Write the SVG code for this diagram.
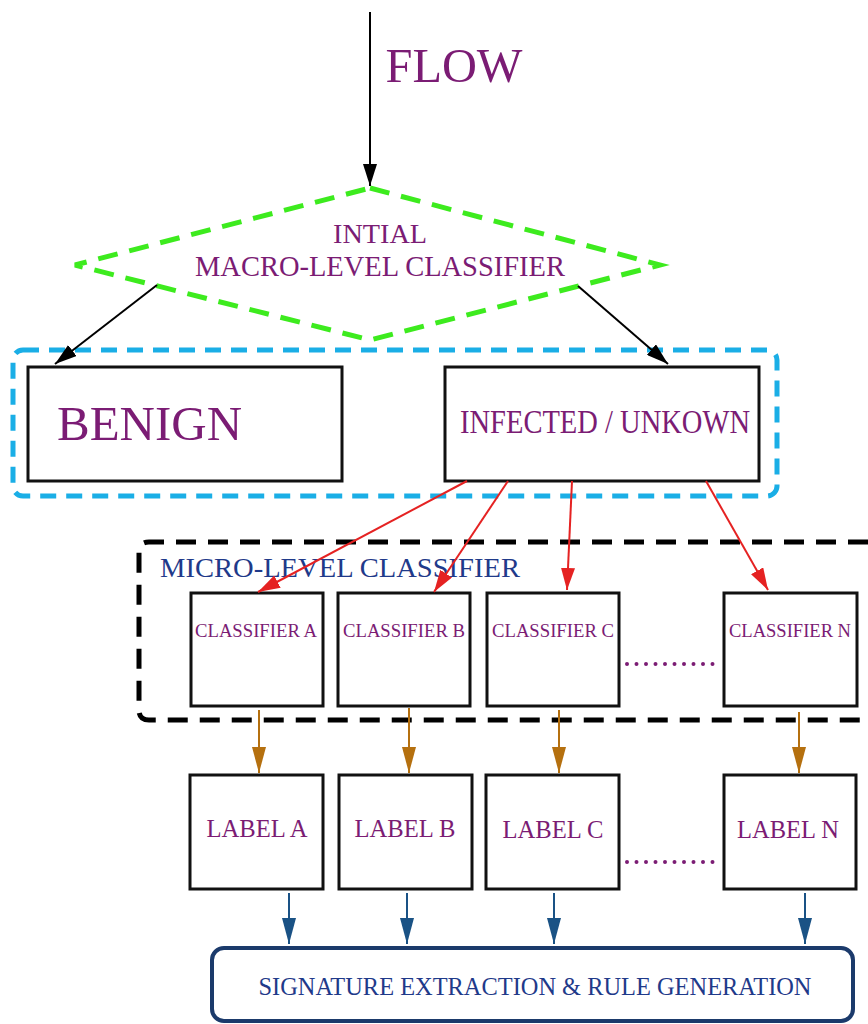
<svg xmlns="http://www.w3.org/2000/svg" width="868" height="1024" viewBox="0 0 868 1024">
<style>
  text { font-family: "Liberation Serif", "Times New Roman", serif; }
  .t { fill: #7B1C74; text-anchor: middle; }
  .box { fill: #fff; stroke: #111; stroke-width: 3; }
  .blk { stroke: #000; stroke-width: 2; fill: none; }
  .red { stroke: #E52222; stroke-width: 2; fill: none; }
  .brn { stroke: #B5700F; stroke-width: 2; fill: none; }
  .blu { stroke: #1A5285; stroke-width: 2; fill: none; }
  .dots { stroke: #7B1C74; stroke-width: 4; stroke-linecap: round; stroke-dasharray: 0 9.5; fill: none; }
</style>
<defs>
  <marker id="ab" markerUnits="userSpaceOnUse" markerWidth="22" markerHeight="14" refX="22" refY="7" orient="auto"><path d="M0,0 L22,7 L0,14 Z" fill="#000"/></marker>
  <marker id="ar" markerUnits="userSpaceOnUse" markerWidth="22" markerHeight="14" refX="22" refY="7" orient="auto"><path d="M0,0 L22,7 L0,14 Z" fill="#E52222"/></marker>
  <marker id="ao" markerUnits="userSpaceOnUse" markerWidth="26" markerHeight="14" refX="26" refY="7" orient="auto"><path d="M0,0 L26,7 L0,14 Z" fill="#B5700F"/></marker>
  <marker id="au" markerUnits="userSpaceOnUse" markerWidth="26" markerHeight="14" refX="26" refY="7" orient="auto"><path d="M0,0 L26,7 L0,14 Z" fill="#1A5285"/></marker>
</defs>

<g id="flow-label">
  <text class="t" x="454" y="82" font-size="48" textLength="137" lengthAdjust="spacingAndGlyphs">FLOW</text>
</g>

<g id="macro-classifier">
  <polygon points="370,188 660,265 370,340 75,265" fill="none" stroke="#3DEB1E" stroke-width="5" stroke-dasharray="20 12"/>
  <text class="t" x="380" y="243" font-size="28" textLength="94" lengthAdjust="spacingAndGlyphs">INTIAL</text>
  <text class="t" x="380" y="276" font-size="29" textLength="370" lengthAdjust="spacingAndGlyphs">MACRO-LEVEL CLASSIFIER</text>
</g>

<g id="macro-output-group">
  <rect x="13" y="350" width="764" height="146" rx="10" fill="none" stroke="#1AAEE6" stroke-width="5" stroke-dasharray="16 10"/>
</g>

<g id="benign">
  <rect class="box" x="28" y="367" width="314" height="114"/>
  <text x="57" y="440" font-size="48" fill="#7B1C74" textLength="185" lengthAdjust="spacingAndGlyphs">BENIGN</text>
</g>

<g id="infected">
  <rect class="box" x="445" y="367" width="314" height="114"/>
  <text class="t" x="605" y="433" font-size="33" textLength="290" lengthAdjust="spacingAndGlyphs">INFECTED / UNKOWN</text>
</g>

<g id="micro-classifier-group">
  <path d="M868,542 L149,542 Q139,542 139,552 L139,710 Q139,720 149,720 L868,720" fill="none" stroke="#000" stroke-width="5" stroke-dasharray="20 12"/>
  <text x="160" y="577" font-size="27" fill="#1F3A8A" textLength="360" lengthAdjust="spacingAndGlyphs">MICRO-LEVEL CLASSIFIER</text>
</g>

<g id="classifier-a">
  <rect class="box" x="191" y="593" width="132" height="113"/>
  <text class="t" x="256" y="637" font-size="19" textLength="122" lengthAdjust="spacingAndGlyphs">CLASSIFIER A</text>
</g>
<g id="classifier-b">
  <rect class="box" x="338" y="593" width="132" height="113"/>
  <text class="t" x="404" y="637" font-size="19" textLength="122" lengthAdjust="spacingAndGlyphs">CLASSIFIER B</text>
</g>
<g id="classifier-c">
  <rect class="box" x="487" y="593" width="132" height="113"/>
  <text class="t" x="553" y="637" font-size="19" textLength="122" lengthAdjust="spacingAndGlyphs">CLASSIFIER C</text>
</g>
<g id="classifier-n">
  <rect class="box" x="724" y="593" width="133" height="113"/>
  <text class="t" x="790" y="637" font-size="19" textLength="122" lengthAdjust="spacingAndGlyphs">CLASSIFIER N</text>
</g>

<g id="label-a">
  <rect class="box" x="190" y="775" width="133" height="114"/>
  <text class="t" x="257" y="837" font-size="25" textLength="101" lengthAdjust="spacingAndGlyphs">LABEL A</text>
</g>
<g id="label-b">
  <rect class="box" x="339" y="775" width="133" height="114"/>
  <text class="t" x="405" y="837" font-size="25" textLength="101" lengthAdjust="spacingAndGlyphs">LABEL B</text>
</g>
<g id="label-c">
  <rect class="box" x="486" y="775" width="133" height="114"/>
  <text class="t" x="553" y="838" font-size="25" textLength="101" lengthAdjust="spacingAndGlyphs">LABEL C</text>
</g>
<g id="label-n">
  <rect class="box" x="724" y="775" width="132" height="114"/>
  <text class="t" x="788" y="838" font-size="25" textLength="102" lengthAdjust="spacingAndGlyphs">LABEL N</text>
</g>

<g id="signature">
  <rect x="212" y="948" width="641" height="73" rx="12" fill="#fff" stroke="#1B3A6B" stroke-width="4"/>
  <text x="535" y="995" font-size="26" fill="#1F3A8A" text-anchor="middle" textLength="553" lengthAdjust="spacingAndGlyphs">SIGNATURE EXTRACTION &amp; RULE GENERATION</text>
</g>

<g id="connectors">
  <line class="blk" x1="370" y1="12" x2="370" y2="186" marker-end="url(#ab)"/>
  <line class="blk" x1="157" y1="285" x2="55" y2="364" marker-end="url(#ab)"/>
  <line class="blk" x1="578" y1="286" x2="668" y2="364" marker-end="url(#ab)"/>
  <line class="red" x1="467" y1="481" x2="258" y2="592" marker-end="url(#ar)"/>
  <line class="red" x1="508" y1="481" x2="434" y2="592" marker-end="url(#ar)"/>
  <line class="red" x1="572" y1="481" x2="567" y2="590" marker-end="url(#ar)"/>
  <line class="red" x1="706" y1="481" x2="768" y2="590" marker-end="url(#ar)"/>
  <line class="brn" x1="259" y1="710" x2="259" y2="773" marker-end="url(#ao)"/>
  <line class="brn" x1="409" y1="708" x2="409" y2="773" marker-end="url(#ao)"/>
  <line class="brn" x1="559" y1="710" x2="559" y2="773" marker-end="url(#ao)"/>
  <line class="brn" x1="799" y1="712" x2="799" y2="773" marker-end="url(#ao)"/>
  <line class="blu" x1="289" y1="893" x2="289" y2="944" marker-end="url(#au)"/>
  <line class="blu" x1="407" y1="893" x2="407" y2="944" marker-end="url(#au)"/>
  <line class="blu" x1="554" y1="893" x2="554" y2="944" marker-end="url(#au)"/>
  <line class="blu" x1="805" y1="893" x2="805" y2="944" marker-end="url(#au)"/>
  <line class="dots" x1="627" y1="664" x2="720" y2="664"/>
  <line class="dots" x1="627" y1="862" x2="720" y2="862"/>
</g>
</svg>
